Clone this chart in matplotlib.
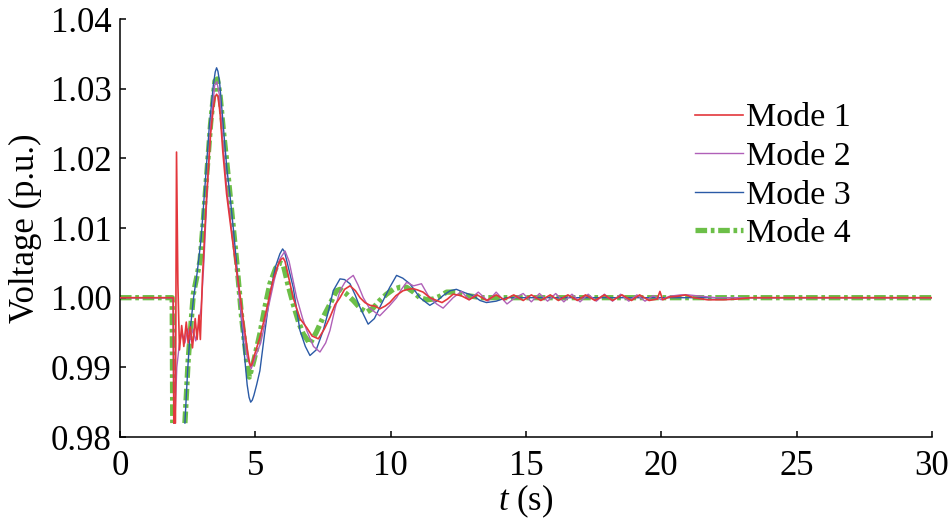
import matplotlib
matplotlib.use("Agg")
import matplotlib.pyplot as plt

NAN = float("nan")  # gap in the trace during the fault (off-scale)

# ── Data ─────────────────────────────────────────────────
t_mode1 = [0, 1.97, 1.99, 2.05, 2.09, 2.14, 2.2, 2.28, 2.36, 2.45, 2.52, 2.6, 2.68,
           2.78, 2.85, 2.92, 2.97, 3.05, 3.2, 3.35, 3.45, 3.52, 3.57, 3.62, 3.7, 3.8,
           3.94, 4.1, 4.25, 4.43, 4.6, 4.72, 4.79, 4.83, 4.88, 4.95, 5.17, 5.4, 5.65,
           5.85, 5.95, 6.03, 6.1, 6.2, 6.4, 6.65, 6.9, 7.1, 7.33, 7.55, 7.76, 7.95,
           8.13, 8.3, 8.5, 8.7, 8.87, 9.05, 9.24, 9.42, 9.6, 9.8, 9.97, 10.2, 10.46,
           10.65, 10.83, 11.0, 11.2, 11.45, 11.7, 11.9, 12.1, 12.31, 12.6, 12.9, 13.2,
           13.55, 13.9, 14.2, 14.55, 14.9, 15.2, 15.55, 15.9, 16.2, 16.55, 16.9, 17.2,
           17.55, 17.9, 18.2, 18.55, 18.9, 19.2, 19.55, 19.85, 19.95, 20.05, 20.3, 20.6,
           20.9, 21.2, 21.7, 22.3, 22.8, 23.3, 30]
v_mode1 = [1.0, 1.0, 0.982, 0.982, 1.0209, 1.002, 0.9925, 0.996, 0.993, 0.9965, 0.9935,
           0.9958, 0.9928, 0.997, 0.994, 0.9975, 0.994, 1.003, 1.0145, 1.0235, 1.0272,
           1.0288, 1.0292, 1.0289, 1.0265, 1.021, 1.0149, 1.010, 1.0055, 1.0006, 0.9955,
           0.9922, 0.9906, 0.9902, 0.9905, 0.9915, 0.9943, 0.998, 1.0024, 1.0048,
           1.0055, 1.0057, 1.0052, 1.0035, 1.0, 0.997, 0.9957, 0.9945, 0.9941, 0.9955,
           0.9972, 0.999, 1.0, 1.0012, 1.0017, 1.001, 1.0, 0.9993, 0.9989, 0.9988,
           0.9984, 0.9988, 0.9993, 1.0003, 1.001, 1.0012, 1.0013, 1.0011, 1.0008, 1.0,
           0.9996, 0.9993, 0.9998, 1.0005, 1.0003, 0.9997, 1.0004, 0.9996, 1.0004,
           0.9997, 1.0004, 0.9996, 1.0004, 0.9996, 1.0004, 0.9996, 1.0004, 0.9996,
           1.0004, 0.9996, 1.0004, 0.9996, 1.0004, 0.9996, 1.0004, 0.9996, 0.9998,
           1.0009, 0.9997, 1.0001, 1.0002, 1.0004, 1.0, 0.9997, 0.9997, 0.9998, 1.0, 1.0]

t_mode2 = [0, 1.97, 1.99, 2.03, 2.1, 2.2, 2.3, 2.4, 2.5, 2.6, 2.7, 2.8, 2.9, 3.0, 3.1,
           3.2, 3.35, 3.5, 3.58, 3.68, 3.8, 3.95, 4.1, 4.3, 4.5, 4.7, 4.85, 5.0, 5.2,
           5.45, 5.7, 5.9, 6.1, 6.25, 6.53, 6.75, 6.9, 7.15, 7.39, 7.6, 7.76, 7.95,
           8.13, 8.31, 8.45, 8.62, 8.8, 8.99, 9.2, 9.36, 9.6, 9.75, 9.95, 10.22, 10.4,
           10.59, 10.85, 11.14, 11.39, 11.7, 11.94, 12.31, 12.62, 12.9, 13.24, 13.6,
           13.9, 14.3, 14.6, 14.9, 15.2, 15.5, 15.8, 16.1, 16.4, 16.7, 17.0, 17.3, 17.6,
           17.9, 18.2, 18.5, 18.8, 19.1, 19.4, 19.7, 20.0, 20.3, 20.7, 21.0, 21.5, 22.0,
           30]
v_mode2 = [1.0, 1.0, 0.982, 0.982, 0.99, 0.9935, 0.995, 0.9935, 0.9955, 0.994, 0.9955,
           0.9938, 0.996, 0.9985, 1.005, 1.0135, 1.0245, 1.0305, 1.031, 1.029, 1.0225,
           1.0155, 1.0105, 1.004, 0.997, 0.9915, 0.9898, 0.9915, 0.9935, 0.998, 1.0025,
           1.0055, 1.0067, 1.0052, 1.0, 0.997, 0.9953, 0.993, 0.9922, 0.9935, 0.9953,
           0.9985, 1.001, 1.0022, 1.0027, 1.0032, 1.0018, 1.0, 0.9986, 0.9981, 0.9974,
           0.998, 0.9988, 1.0, 1.0012, 1.0022, 1.0017, 1.002, 1.0003, 0.9991, 0.9985,
           1.0, 1.0009, 0.9997, 1.0008, 0.9995, 1.0008, 0.9991, 1.0, 1.0006, 0.9994,
           1.0006, 0.9995, 1.0006, 0.9994, 1.0005, 0.9994, 1.0005, 0.9995, 1.0005,
           0.9995, 1.0005, 0.9995, 1.0004, 0.9995, 1.0003, 0.9997, 1.0002, 1.0004,
           1.0004, 1.0002, 1.0, 1.0]

t_mode3 = [0, 1.97, 1.99, 2.0, 2.4, 2.5, 2.6, 2.72, 2.85, 3.0, 3.15, 3.3, 3.45, 3.52,
           3.57, 3.62, 3.68, 3.8, 3.95, 4.06, 4.2, 4.4, 4.56, 4.7, 4.77, 4.83, 4.89,
           4.95, 5.05, 5.17, 5.35, 5.54, 5.75, 5.91, 6.01, 6.08, 6.15, 6.4, 6.65, 6.85,
           7.02, 7.25, 7.51, 7.7, 7.88, 8.13, 8.3, 8.5, 8.7, 8.87, 9.17, 9.4, 9.6, 9.8,
           9.97, 10.22, 10.45, 10.71, 10.9, 11.08, 11.45, 11.7, 11.94, 12.2, 12.43,
           12.75, 13.05, 13.3, 13.54, 13.9, 14.28, 15, 30]
v_mode3 = [1.0, 1.0, 0.982, NAN, 0.982, 0.9895, 0.9955, 1.0, 1.0035, 1.0085, 1.0165,
           1.0245, 1.0305, 1.0324, 1.033, 1.0325, 1.031, 1.0255, 1.0185, 1.0149, 1.0095,
           1.001, 0.9934, 0.9875, 0.9857, 0.985, 0.9853, 0.986, 0.9875, 0.9895, 0.995,
           1.0005, 1.0045, 1.0063, 1.007, 1.0066, 1.0055, 1.0015, 0.9953, 0.993, 0.9917,
           0.9925, 0.9953, 0.998, 1.001, 1.0027, 1.0026, 1.002, 1.0003, 0.9986, 0.9962,
           0.997, 0.9986, 1.0002, 1.0015, 1.0032, 1.0028, 1.002, 1.001, 1.0, 0.9989,
           0.9995, 1.0003, 1.001, 1.0012, 1.0007, 1.0003, 0.9996, 0.9993, 0.9995, 1.0,
           1.0, 1.0]

t_mode4 = [0, 1.93, 1.95, 1.96, 2.4, 2.52, 2.71, 2.96, 3.08, 3.2, 3.35, 3.51, 3.6, 3.7,
           3.82, 3.94, 4.1, 4.31, 4.5, 4.68, 4.78, 4.95, 5.17, 5.35, 5.54, 5.75, 5.92,
           6.03, 6.2, 6.4, 6.6, 6.77, 7.02, 7.25, 7.51, 7.75, 8.0, 8.13, 8.35, 8.62,
           8.9, 9.11, 9.35, 9.6, 9.85, 10.1, 10.35, 10.59, 10.85, 11.08, 11.35, 11.57,
           11.82, 12.07, 12.4, 12.8, 13.4, 30]
v_mode4 = [1.0, 1.0, 0.982, NAN, 0.982, 0.991, 1.0005, 1.0053, 1.011, 1.0173, 1.025,
           1.0311, 1.0314, 1.029, 1.024, 1.0197, 1.0135, 1.0053, 0.997, 0.991, 0.9886,
           0.991, 0.9948, 0.9985, 1.002, 1.0042, 1.005, 1.0048, 1.002, 0.9991, 0.9965,
           0.9948, 0.9934, 0.995, 0.9972, 0.999, 1.001, 1.0012, 1.0006, 0.9996, 0.9984,
           0.9979, 0.9985, 0.9996, 1.0005, 1.0012, 1.0015, 1.0015, 1.0008, 1.0, 0.9997,
           0.9998, 1.0002, 1.0008, 1.0008, 1.0003, 1.0, 1.0]

labels = ["Mode 1", "Mode 2", "Mode 3", "Mode 4"]
x_ticks = [0, 5, 10, 15, 20, 25, 30]
y_ticks = [0.98, 0.99, 1.00, 1.01, 1.02, 1.03, 1.04]

# ── Style ────────────────────────────────────────────────
plt.rcParams["font.family"] = ["Liberation Serif", "DejaVu Serif"]
plt.rcParams["mathtext.fontset"] = "custom"
plt.rcParams["mathtext.rm"] = "Liberation Serif"
plt.rcParams["mathtext.it"] = "Liberation Serif:italic"

fig = plt.figure(figsize=(9.49, 5.21), dpi=100)
ax = fig.add_axes([0.1264, 0.1612, 0.8556, 0.8023])

l4, = ax.plot(t_mode4, v_mode4, color="#6cbf48", lw=3.8,
              linestyle=(0, (2.2, 0.7, 0.7, 0.7)), zorder=1)
l3, = ax.plot(t_mode3, v_mode3, color="#2a5aa6", lw=1.0, zorder=2)
l2, = ax.plot(t_mode2, v_mode2, color="#b060b8", lw=1.0, zorder=3)
l1, = ax.plot(t_mode1, v_mode1, color="#e3373c", lw=1.2, zorder=4)

ax.set_xlim(0, 30)
ax.set_ylim(0.98, 1.04)
ax.set_xticks(x_ticks)
ax.set_yticks(y_ticks)
ax.set_yticklabels([f"{v:.2f}" for v in y_ticks])

for side in ("top", "right"):
    ax.spines[side].set_visible(False)
for side in ("left", "bottom"):
    ax.spines[side].set_linewidth(1.1)

ax.tick_params(direction="in", length=4.5, width=1.1, labelsize=25)
ax.tick_params(axis="y", pad=6)
ax.tick_params(axis="x", pad=9)

ax.set_xlabel(r"$t$ (s)", fontsize=25, labelpad=0)
ax.set_ylabel("Voltage (p.u.)", fontsize=25, labelpad=6)

ax.legend([l1, l2, l3, l4], labels,
          loc="upper left", bbox_to_anchor=(0.708, 0.80), frameon=False,
          fontsize=24.5, borderpad=0, borderaxespad=0, handlelength=1.41,
          handletextpad=0.1, labelspacing=0.23)

fig.savefig("out.png", dpi=100)
